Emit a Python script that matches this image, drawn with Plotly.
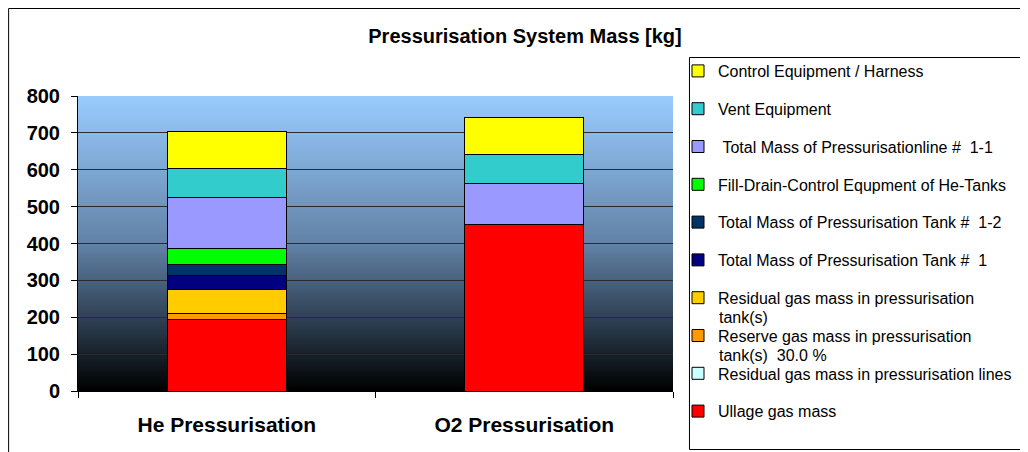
import plotly.graph_objects as go

# Pressurisation system mass breakdown [kg]
systems = ["He Pressurisation", "O2 Pressurisation"]

ullage_gas = [195, 451]
residual_gas_lines = [0, 0]
reserve_gas_tanks = [15, 0]
residual_gas_tanks = [66, 0]
tank_1 = [36, 0]
tank_1_2 = [32, 0]
fill_drain = [42, 0]
pressline_1_1 = [140, 112]
vent_equipment = [78, 78]
control_harness = [100, 100]

y_ticks = [0, 100, 200, 300, 400, 500, 600, 700, 800]

NBSP = "\u00a0"

# stacked from bottom to top: (values, legend label, wrapped 2nd line, colour)
SERIES = [
    (ullage_gas, "Ullage gas mass", None, "#FF0000"),
    (residual_gas_lines, "Residual gas mass in pressurisation lines", None, "#CCFFFF"),
    (reserve_gas_tanks, "Reserve gas mass in pressurisation", "tank(s)" + NBSP * 2 + "30.0 %", "#FF9900"),
    (residual_gas_tanks, "Residual gas mass in pressurisation", "tank(s)", "#FFCC00"),
    (tank_1, "Total Mass of Pressurisation Tank #" + NBSP * 2 + "1", None, "#000080"),
    (tank_1_2, "Total Mass of Pressurisation Tank #" + NBSP * 2 + "1-2", None, "#003366"),
    (fill_drain, "Fill-Drain-Control Equpment of He-Tanks", None, "#00FF00"),
    (pressline_1_1, NBSP + "Total Mass of Pressurisationline #" + NBSP * 2 + "1-1", None, "#9999FF"),
    (vent_equipment, "Vent Equipment", None, "#33CCCC"),
    (control_harness, "Control Equipment / Harness", None, "#FFFF00"),
]

FONT = "Liberation Sans, Arial, sans-serif"

# the page body adds an 8px margin, so the figure starts at (8, 8) on screen
OFF = 8
FIG_W, FIG_H = 1028 - OFF, 452 - OFF

# plot area in screen pixels
L, R, T, B = 78, 674, 96, 391
W, H = R - L, B - T

LEGEND_TOP = 54
LEGEND_PITCH = 37.8
LEGEND_TEXT_X = 718


def px_x(p):
    return (p - L) / W


def px_y(p):
    return (B - p) / H


def _lerp(c1, c2, t):
    return tuple(round(a + (b - a) * t) for a, b in zip(c1, c2))


def _gradient(t):
    stops = [(0.0, (0, 0, 0)), (0.25, (48, 66, 86)), (0.5, (98, 130, 166)), (1.0, (153, 204, 255))]
    for (t0, c0), (t1, c1) in zip(stops, stops[1:]):
        if t <= t1:
            return _lerp(c0, c1, (t - t0) / (t1 - t0))
    return stops[-1][1]


fig = go.Figure()
annotations = []

n_series = len(SERIES)
for i, (vals, name, wrap, color) in enumerate(SERIES):
    rank = n_series - i
    fig.add_trace(
        go.Bar(
            x=systems,
            y=vals,
            name=name,
            legendgroup=f"g{i}",
            legendrank=rank,
            marker=dict(color=color, line=dict(color="#000000", width=1)),
        )
    )
    if wrap:
        # continuation line of a wrapped legend label, half a row below it
        y_line = LEGEND_TOP + 18 + (rank - 1) * LEGEND_PITCH + LEGEND_PITCH / 2
        annotations.append(dict(
            text=wrap, xref="paper", yref="paper",
            x=px_x(LEGEND_TEXT_X), y=px_y(y_line), xanchor="left", yanchor="middle",
            showarrow=False, font=dict(family=FONT, size=16, color="#000000"),
        ))

# vertical gradient behind the bars (slices overlap a little to avoid seams)
shapes = []
n = 120
for i in range(n):
    r, g, b = _gradient((i + 0.5) / n)
    shapes.append(
        dict(
            type="rect", xref="x domain", yref="y domain",
            x0=0, x1=1, y0=i / n, y1=min(1, (i + 1.6) / n),
            fillcolor=f"rgb({r},{g},{b})", line=dict(width=0), layer="below",
        )
    )

# chart frame and legend frame
shapes.append(dict(type="rect", xref="paper", yref="paper",
                   x0=px_x(8.5), x1=px_x(1060), y0=px_y(480), y1=px_y(8.5),
                   line=dict(color="#000000", width=1), layer="below"))
shapes.append(dict(type="rect", xref="paper", yref="paper",
                   x0=px_x(690.5), x1=px_x(1060), y0=px_y(449.5), y1=px_y(57.5),
                   line=dict(color="#000000", width=1), fillcolor="white", layer="below"))

fig.update_layout(
    width=FIG_W,
    height=FIG_H,
    barmode="stack",
    bargap=0.6,
    paper_bgcolor="white",
    plot_bgcolor="rgba(0,0,0,0)",
    margin=dict(l=L - OFF, r=FIG_W - (R - OFF), t=T - OFF, b=FIG_H - (B - OFF), pad=0),
    font=dict(family=FONT, color="#000000"),
    title=dict(
        text="<b>Pressurisation System Mass [kg]</b>",
        font=dict(family=FONT, size=20, color="#000000"),
        x=(525 - OFF) / FIG_W, xanchor="center", xref="container",
        y=1 - (36 - OFF) / FIG_H, yanchor="middle", yref="container",
    ),
    showlegend=True,
    legend=dict(
        x=px_x(678), xanchor="left",
        y=px_y(LEGEND_TOP), yanchor="top",
        traceorder="grouped",
        tracegroupgap=14,
        maxheight=420,
        font=dict(family=FONT, size=16, color="#000000"),
        bgcolor="rgba(0,0,0,0)",
        borderwidth=0,
        itemclick=False,
    ),
    annotations=annotations,
    shapes=shapes,
    xaxis=dict(
        showline=True, linecolor="#000000", linewidth=1,
        ticks="outside", ticklen=6, tickcolor="#000000",
        tickson="boundaries",
        ticklabelstandoff=15,
        tickfont=dict(family=FONT, size=21, color="#000000", weight="bold"),
        showgrid=False,
    ),
    yaxis=dict(
        range=[0, 800],
        tickvals=y_ticks,
        showline=True, linecolor="#000000", linewidth=1,
        ticks="outside", ticklen=6, tickcolor="#000000",
        ticklabelstandoff=7,
        tickfont=dict(family=FONT, size=20, color="#000000", weight="bold"),
        showgrid=True, gridcolor="#2b2b2b", gridwidth=1,
        zeroline=False,
    ),
)

fig.write_html("out.html")
